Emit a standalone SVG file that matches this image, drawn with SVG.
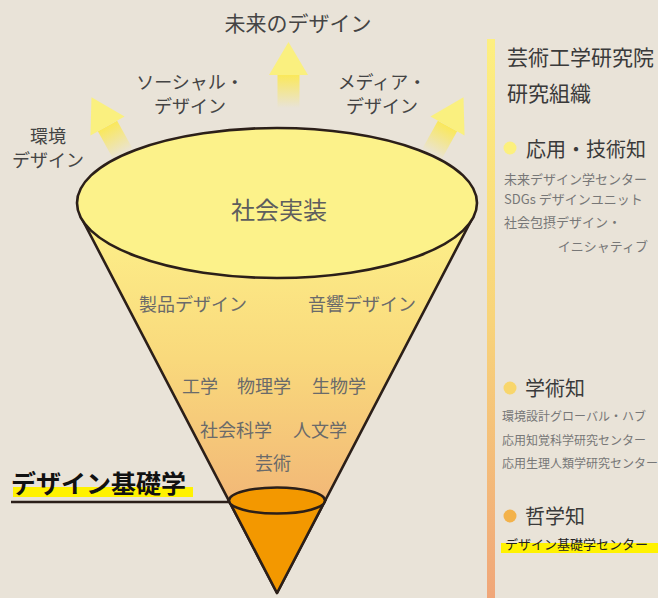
<svg xmlns="http://www.w3.org/2000/svg" width="658" height="598" viewBox="0 0 658 598">
<defs>
<style>
text{font-family:"Noto Sans CJK JP","Noto Sans",sans-serif;}
.top{font-size:18px;fill:#444;}
.cone{font-size:18px;fill:#6a6a6a;}
.h{font-size:20px;fill:#3a3a3a;}
.t{font-size:21px;fill:#3a3a3a;}
.s13{font-size:13px;fill:#777;}
.s12{font-size:12px;fill:#777;}
.edge{stroke:#2b1f19;stroke-width:2.6;stroke-linejoin:round;}
</style>
<linearGradient id="coneG" x1="0" y1="217" x2="0" y2="500" gradientUnits="userSpaceOnUse">
<stop offset="0" stop-color="#fdf08a"/>
<stop offset="0.5" stop-color="#f9d97c"/>
<stop offset="1" stop-color="#f2b877"/>
</linearGradient>
<linearGradient id="barG" x1="0" y1="0" x2="0" y2="1">
<stop offset="0" stop-color="#fdef80"/>
<stop offset="0.5" stop-color="#f8d47a"/>
<stop offset="1" stop-color="#f0a679"/>
</linearGradient>
<linearGradient id="shaftG" x1="0" y1="0" x2="0" y2="1">
<stop offset="0" stop-color="#fae85a"/>
<stop offset="1" stop-color="#fae85a" stop-opacity="0"/>
</linearGradient>
<g id="arrow">
<rect x="-11" y="0" width="22" height="33" fill="url(#shaftG)"/>
<polygon points="0,-33 -19.5,0 19.5,0" fill="#fbf07a" opacity="0.95"/>
</g>
</defs>
<rect width="658" height="598" fill="#e9e3d8"/>

<g id="arrows">
<use href="#arrow" transform="translate(288.5,75)"/>
<use href="#arrow" transform="translate(107.5,126) rotate(-29)"/>
<use href="#arrow" transform="translate(447.5,126) rotate(29)"/>
</g>

<g id="top-labels">
<text class="top" x="298" y="31" text-anchor="middle" style="font-size:21px">未来のデザイン</text>
<text class="top" x="190" y="89" text-anchor="middle">ソーシャル・</text>
<text class="top" x="190" y="113" text-anchor="middle">デザイン</text>
<text class="top" x="382" y="89" text-anchor="middle">メディア・</text>
<text class="top" x="382" y="113" text-anchor="middle">デザイン</text>
<text class="top" x="48" y="143" text-anchor="middle">環境</text>
<text class="top" x="48" y="167" text-anchor="middle">デザイン</text>
</g>

<g id="cone">
<polygon class="edge" points="81,217 473,217 277,593" fill="url(#coneG)"/>
<polygon class="edge" points="228.5,500 325.5,500 277,593" fill="#f39800"/>
<ellipse class="edge" cx="277" cy="500.5" rx="48" ry="13" fill="#f39800"/>
</g>

<g id="social">
<ellipse class="edge" cx="277" cy="203" rx="200" ry="75" fill="#fcf28a"/>
<text x="279" y="219" text-anchor="middle" style="font-size:24px;fill:#5e5e5e">社会実装</text>
</g>

<g id="cone-labels">
<text class="cone" x="139" y="311">製品デザイン</text>
<text class="cone" x="308" y="311">音響デザイン</text>
<text class="cone" x="182" y="393">工学</text>
<text class="cone" x="237" y="393">物理学</text>
<text class="cone" x="312" y="393">生物学</text>
<text class="cone" x="200" y="437">社会科学</text>
<text class="cone" x="293" y="437">人文学</text>
<text class="cone" x="255" y="470">芸術</text>
</g>

<g id="kiso">
<rect x="13" y="487" width="180" height="10" fill="#fff200"/>
<text x="11" y="493" style="font-size:25px;font-weight:bold;fill:#111">デザイン基礎学</text>
<line x1="11" y1="502" x2="229" y2="502" stroke="#2b1f19" stroke-width="2.5"/>
</g>

<g id="legend">
<rect x="487" y="39" width="8" height="559" fill="url(#barG)"/>
<text class="t" x="507" y="65">芸術工学研究院</text>
<text class="t" x="507" y="101">研究組織</text>
<circle cx="510" cy="148" r="6.5" fill="#fcf07e"/>
<text class="h" x="526" y="157">応用・技術知</text>
<text class="s13" x="504" y="184">未来デザイン学センター</text>
<text class="s13" x="504" y="204">SDGs デザインユニット</text>
<text class="s13" x="504" y="227">社会包摂デザイン・</text>
<text class="s13" x="648" y="251" text-anchor="end">イニシャティブ</text>
<circle cx="510" cy="388" r="6.5" fill="#f8d66c"/>
<text class="h" x="525" y="396">学術知</text>
<text class="s12" x="502" y="421">環境設計グローバル・ハブ</text>
<text class="s12" x="502" y="445">応用知覚科学研究センター</text>
<text class="s12" x="502" y="468">応用生理人類学研究センター</text>
<circle cx="510" cy="516" r="6.5" fill="#f3b24a"/>
<text class="h" x="525" y="524">哲学知</text>
<rect x="501" y="543" width="157" height="10" fill="#fff200"/>
<text x="505" y="549" style="font-size:13px;fill:#222">デザイン基礎学センター</text>
</g>
</svg>
